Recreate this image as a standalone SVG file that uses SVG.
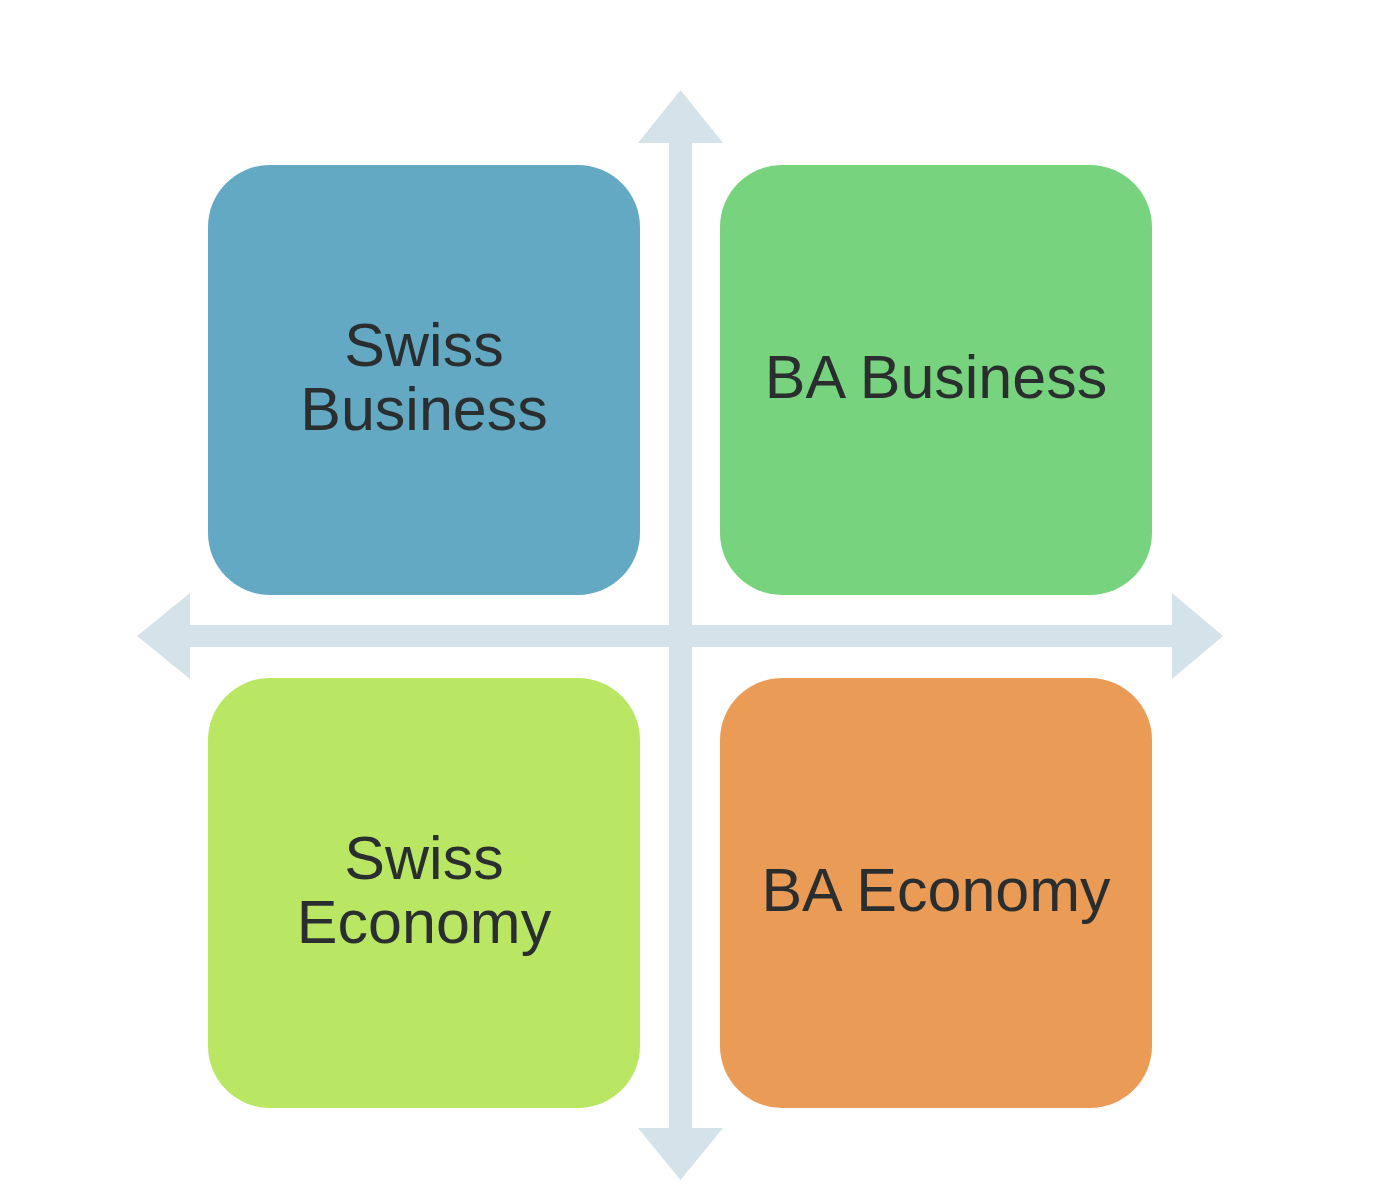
<svg xmlns="http://www.w3.org/2000/svg" width="1395" height="1200" viewBox="0 0 1395 1200">
  <style>
    .box { stroke: none; }
    .lbl { font-family: "Liberation Sans", Arial, Helvetica, sans-serif; font-size: 61px; fill: #2a2e2e; text-anchor: middle; }
    .axis { fill: #d4e2ea; stroke: none; }
  </style>
  <rect width="1395" height="1200" fill="#ffffff"/>
  <g id="connectors">
    <path class="axis" d="M680.5 90 L723 143 L692 143 L692 1128 L723 1128 L680.5 1180 L638 1128 L669 1128 L669 143 L638 143 Z"/>
    <path class="axis" d="M137 636 L190 593 L190 625 L1172 625 L1172 593 L1223 636 L1172 679 L1172 647 L190 647 L190 679 Z"/>
  </g>
  <g id="swiss-business">
    <rect class="box" x="208" y="165" width="432" height="430" rx="62" ry="62" fill="#63a9c3"/>
    <text class="lbl" x="424" y="366">Swiss</text>
    <text class="lbl" x="424" y="430">Business</text>
  </g>
  <g id="ba-business">
    <rect class="box" x="720" y="165" width="432" height="430" rx="62" ry="62" fill="#77d37e"/>
    <text class="lbl" x="936" y="398">BA Business</text>
  </g>
  <g id="swiss-economy">
    <rect class="box" x="208" y="678" width="432" height="430" rx="62" ry="62" fill="#b9e663"/>
    <text class="lbl" x="424" y="879">Swiss</text>
    <text class="lbl" x="424" y="943">Economy</text>
  </g>
  <g id="ba-economy">
    <rect class="box" x="720" y="678" width="432" height="430" rx="62" ry="62" fill="#ea9b56"/>
    <text class="lbl" x="936" y="911">BA Economy</text>
  </g>
</svg>
